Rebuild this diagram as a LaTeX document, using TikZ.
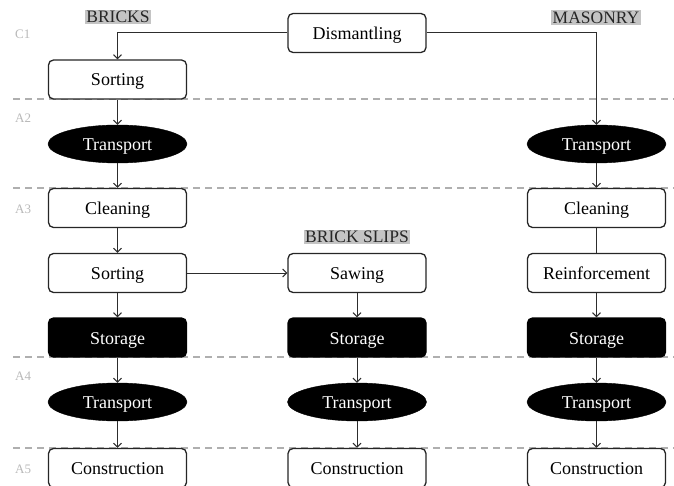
\documentclass[tikz,border=0pt]{standalone}
\usepackage{fontspec}
\setmainfont{Liberation Serif}
\usetikzlibrary{shapes.geometric,arrows.meta}
\definecolor{lab}{RGB}{185,185,185}
\definecolor{dash}{RGB}{175,175,175}
\definecolor{hl}{RGB}{196,196,196}
\definecolor{ln}{RGB}{45,45,45}
\begin{document}
\begin{tikzpicture}[x=1pt,y=-1pt,
  font=\fontsize{18pt}{20pt}\selectfont,
  txt/.style={text height=15pt, text depth=2pt},
  procbox/.style={txt, draw=black!85, line width=1.3pt, rounded corners=5pt, fill=white,
    minimum width=138pt, minimum height=39pt, inner sep=0pt},
  storebox/.style={txt, draw=black, line width=1.3pt, rounded corners=5pt, fill=black, text=white,
    minimum width=138pt, minimum height=39pt, inner sep=0pt},
  transp/.style={txt, ellipse, draw=black, fill=black, text=white,
    minimum width=139pt, minimum height=38pt, inner sep=0pt},
  phase/.style={text=lab, anchor=west, inner sep=0pt, font=\fontsize{13pt}{14pt}\selectfont},
  heading/.style={fill=hl, text=black!85, inner sep=1.3pt, font=\fontsize{17.5pt}{18pt}\selectfont},
  sep/.style={draw=dash, line width=1.2pt, dash pattern=on 7pt off 5pt},
  conn/.style={draw=ln, line width=1pt, -{Straight Barb[length=4pt,width=8pt]}},
  plain/.style={draw=ln, line width=1pt}
]
\useasboundingbox (0,0) rectangle (674,486);
% phase separators
\draw[sep] (13,99) -- (674,99);
\draw[sep] (13,188) -- (674,188);
\draw[sep] (13,357) -- (674,357);
\draw[sep] (13,448) -- (674,448);
% phase labels
\node[phase] (pc1) at (15,34) {C1};
\node[phase] (pa2) at (15,118) {A2};
\node[phase] (pa3) at (15,209) {A3};
\node[phase] (pa4) at (15,376) {A4};
\node[phase] (pa5) at (15,469) {A5};
% headings
\node[heading] (hb) at (118,17) {BRICKS};
\node[heading] (hm) at (596,17.5) {MASONRY};
\node[heading] (hs) at (357,237) {BRICK SLIPS};
% nodes
\node[procbox] (dis) at (357,33) {Dismantling};
\node[procbox] (s1) at (117.5,79.5) {Sorting};
\node[transp] (t1) at (117.5,144) {Transport};
\node[procbox] (c1) at (117.5,208) {Cleaning};
\node[procbox] (s2) at (117.5,273) {Sorting};
\node[storebox] (st1) at (117.5,337.5) {Storage};
\node[transp] (t2) at (117.5,402) {Transport};
\node[procbox] (k1) at (117.5,468) {Construction};
\node[procbox] (saw) at (357,273) {Sawing};
\node[storebox] (st2) at (357,337.5) {Storage};
\node[transp] (t3) at (357,402) {Transport};
\node[procbox] (k2) at (357,468) {Construction};
\node[transp] (tr) at (596.5,144) {Transport};
\node[procbox] (cr) at (596.5,208) {Cleaning};
\node[procbox] (re) at (596.5,273) {Reinforcement};
\node[storebox] (st3) at (596.5,337.5) {Storage};
\node[transp] (t4) at (596.5,402) {Transport};
\node[procbox] (k3) at (596.5,468) {Construction};
% connectors
\draw[conn] (dis.west) -| (s1.north);
\draw[conn] (dis.east) -| (tr.north);
\draw[conn] (s1) -- (t1);
\draw[conn] (t1) -- (c1);
\draw[conn] (c1) -- (s2);
\draw[conn] (s2) -- (st1);
\draw[conn] (st1) -- (t2);
\draw[conn] (t2) -- (k1);
\draw[conn] (s2) -- (saw);
\draw[conn] (saw) -- (st2);
\draw[conn] (st2) -- (t3);
\draw[conn] (t3) -- (k2);
\draw[conn] (tr) -- (cr);
\draw[plain] (cr) -- (re);
\draw[conn] (re) -- (st3);
\draw[conn] (st3) -- (t4);
\draw[conn] (t4) -- (k3);
\end{tikzpicture}
\end{document}
